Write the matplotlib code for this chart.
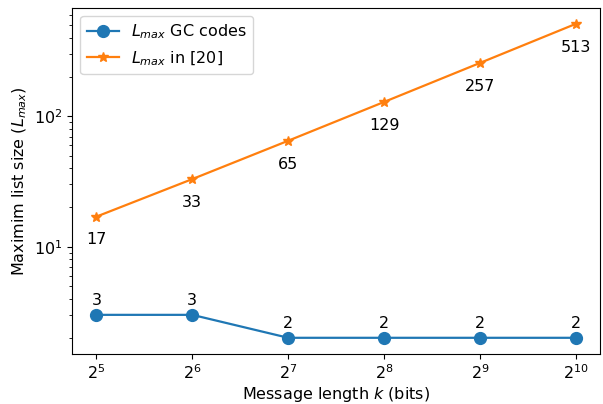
import numpy as np
import matplotlib.pyplot as plt

plt.rcParams['font.size'] = 11.5

# ===== data =====
k = [2**5, 2**6, 2**7, 2**8, 2**9, 2**10]
L_gc = [3, 3, 2, 2, 2, 2]
L_ref = [17, 33, 65, 129, 257, 513]

fig, ax = plt.subplots(figsize=(6.03, 4.04), dpi=100)
fig.subplots_adjust(left=0.12, right=0.995, top=0.98, bottom=0.125)

ax.plot(k, L_gc, marker='o', markersize=8.5, linewidth=1.6, label=r'$L_{max}$ GC codes')
ax.plot(k, L_ref, marker='*', markersize=7.5, linewidth=1.6, label=r'$L_{max}$ in [20]')

for x, y in zip(k, L_gc):
    ax.annotate(str(y), (x, y), textcoords='offset points', xytext=(0, 7),
                ha='center')
for x, y in zip(k, L_ref):
    ax.annotate(str(y), (x, y), textcoords='offset points', xytext=(0, -20),
                ha='center')

ax.set_xscale('log', base=2)
ax.set_yscale('log')
ax.set_xlabel(r'Message length $k$ (bits)', labelpad=2)
ax.set_ylabel(r'Maximim list size ($L_{max}$)')
ax.legend(loc='upper left')

plt.savefig('out.png')
